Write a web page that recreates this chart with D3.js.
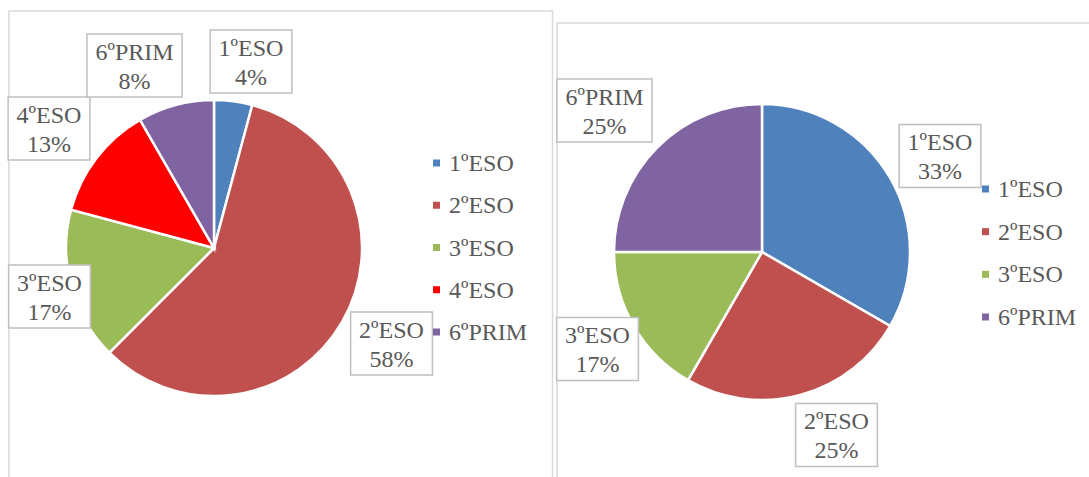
<!DOCTYPE html>
<html>
   <head>
      <script src="https://d3js.org/d3.v7.min.js"></script>
      <style>
          svg text { font-family: 'Liberation Serif', 'Times New Roman', serif !important; font-size: 24px; }
      </style>
   </head>
   <body style="margin:0">
      <script>
            // data: number of students per course
            var leftCategories = ["1ºESO", "2ºESO", "3ºESO", "4ºESO", "6ºPRIM"];
            var leftValues = [1, 14, 4, 3, 2];
            var leftColors = ["#4F81BD", "#C0504D", "#9BBB59", "#FF0000", "#8064A2"];

            var rightCategories = ["1ºESO", "2ºESO", "3ºESO", "6ºPRIM"];
            var rightValues = [4, 3, 2, 3];
            var rightColors = ["#4F81BD", "#C0504D", "#9BBB59", "#8064A2"];

            var width = 1089, height = 477;
            var svg = d3.select("body").append("svg")
                .attr("width", width)
                .attr("height", height)
                .attr("font-family", "Liberation Serif, serif")
                .style("display", "block");

            // chart frames
            svg.append("rect").attr("x", 9).attr("y", 11).attr("width", 543.5).attr("height", 500)
                .attr("fill", "none").attr("stroke", "#d9d9d9").attr("stroke-width", 1.5);
            svg.append("rect").attr("x", 557).attr("y", 23).attr("width", 600).attr("height", 500)
                .attr("fill", "none").attr("stroke", "#d9d9d9").attr("stroke-width", 1.5);

            // label box centres (layout only)
            var leftLabelPos = [[251, 61.5], [391.5, 343.5], [49.5, 296.5], [49, 128.5], [134.5, 65.5]];
            var rightLabelPos = [[940, 156], [836.5, 435], [597.5, 349], [604.5, 110.5]];

            function drawPie(cfg) {
                var total = d3.sum(cfg.values);
                var color = d3.scaleOrdinal().domain(cfg.categories).range(cfg.colors);
                var pie = d3.pie().sort(null).value(function(d) { return d.v; });
                var arc = d3.arc().innerRadius(0).outerRadius(cfg.r);
                var rows = cfg.categories.map(function(c, i) { return { c: c, v: cfg.values[i] }; });

                var g = svg.append("g").attr("transform", "translate(" + cfg.cx + "," + cfg.cy + ")");
                g.selectAll("path")
                    .data(pie(rows))
                    .enter().append("path")
                    .attr("d", arc)
                    .attr("fill", function(d) { return color(d.data.c); })
                    .attr("stroke", "#fff")
                    .attr("stroke-width", 2.5);

                // data labels
                rows.forEach(function(d, i) {
                    var p = cfg.labelPos[i];
                    var lg = svg.append("g").attr("transform", "translate(" + p[0] + "," + p[1] + ")");
                    var box = lg.append("rect");
                    var t1 = lg.append("text").attr("text-anchor", "middle").attr("fill", "#595959")
                        .attr("x", 0).attr("y", -6).text(d.c);
                    var t2 = lg.append("text").attr("text-anchor", "middle").attr("fill", "#595959")
                        .attr("x", 0).attr("y", 23).text(Math.round(d.v / total * 100) + "%");
                    var bw = Math.max(t1.node().getComputedTextLength(), t2.node().getComputedTextLength()) + 17;
                    box.attr("x", -bw / 2).attr("y", -31.5).attr("width", bw).attr("height", 63)
                        .attr("fill", "#fff").attr("stroke", "#bfbfbf").attr("stroke-width", 1.5);
                });

                // legend
                var y = d3.scalePoint().domain(cfg.categories).range(cfg.legendY);
                var lg = svg.append("g");
                var item = lg.selectAll("g").data(cfg.categories).enter().append("g")
                    .attr("transform", function(d) { return "translate(" + cfg.legendX + "," + y(d) + ")"; });
                item.append("rect").attr("x", 0).attr("y", -3.5).attr("width", 7).attr("height", 7)
                    .attr("fill", function(d) { return color(d); });
                item.append("text").attr("x", 16).attr("y", 8).attr("fill", "#595959")
                    .text(function(d) { return d; });
            }

            drawPie({ categories: leftCategories, values: leftValues, colors: leftColors,
                      cx: 214, cy: 248, r: 148, labelPos: leftLabelPos,
                      legendX: 433, legendY: [163, 332] });
            drawPie({ categories: rightCategories, values: rightValues, colors: rightColors,
                      cx: 762, cy: 252, r: 148, labelPos: rightLabelPos,
                      legendX: 982, legendY: [189, 317] });
      </script>
   </body>
</html>
